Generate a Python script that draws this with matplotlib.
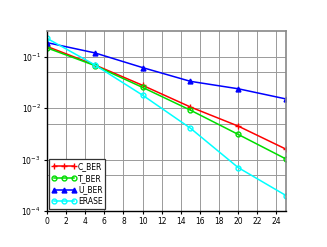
import matplotlib
matplotlib.use("Agg")
import matplotlib.pyplot as plt
from matplotlib.ticker import LogLocator, NullFormatter

snr = [0, 5, 10, 15, 20, 25]
c_ber = [0.16, 0.07, 0.028, 0.0106, 0.0045, 0.0016]
t_ber = [0.15, 0.068, 0.0255, 0.0092, 0.0031, 0.00103]
u_ber = [0.19, 0.12, 0.062, 0.0335, 0.024, 0.0152]
erase = [0.23, 0.07, 0.018, 0.0041, 0.0007, 0.0002]
xticks = list(range(0, 25, 2))

fig = plt.figure(figsize=(3.27, 2.47), dpi=100)
ax = fig.add_axes([0.1437, 0.1457, 0.731, 0.7288])

ax.plot(snr, c_ber, color="#ff0000", marker="+", markersize=4.5, lw=1.1,
        label="C_BER")
ax.plot(snr, t_ber, color="#00dd00", marker="o", markersize=3.5, lw=1.1,
        mfc="none", mew=1, label="T_BER")
ax.plot(snr, u_ber, color="#0000ff", marker="^", markersize=3.5, lw=1.1,
        label="U_BER")
ax.plot(snr, erase, color="#00ffff", marker="o", markersize=3.5, lw=1.1,
        mfc="none", mew=1, label="ERASE")

ax.set_yscale("log")
ax.set_xlim(0, 25)
ax.set_ylim(1e-4, 0.32)
ax.set_xticks(xticks)
ax.yaxis.set_major_locator(LogLocator(base=10, subs=(1.0,)))
ax.yaxis.set_minor_locator(LogLocator(base=10, subs=(5.0,)))
ax.yaxis.set_minor_formatter(NullFormatter())

# scilab-like grid: gray lines at every decade and at 5x
ax.grid(True, which="major", color="#9a9a9a", lw=0.7)
ax.grid(True, which="minor", axis="y", color="#9a9a9a", lw=0.7)
ax.tick_params(which="major", direction="out", length=2.5, width=0.8,
               labelsize=5.5, pad=2)
ax.tick_params(which="minor", length=0)

for side in ("left", "bottom"):
    ax.spines[side].set_color("black")
    ax.spines[side].set_linewidth(1)
for side in ("top", "right"):
    ax.spines[side].set_color("#888888")
    ax.spines[side].set_linewidth(1.2)

leg = ax.legend(loc="lower left", fontsize=5.5, numpoints=3,
                handlelength=3.2, handletextpad=0.2, labelspacing=0.35,
                borderpad=0.35, fancybox=False, framealpha=1,
                borderaxespad=0.3)
leg.get_frame().set_edgecolor("#333333")
leg.get_frame().set_linewidth(0.9)

fig.savefig("out.png", dpi=100)
